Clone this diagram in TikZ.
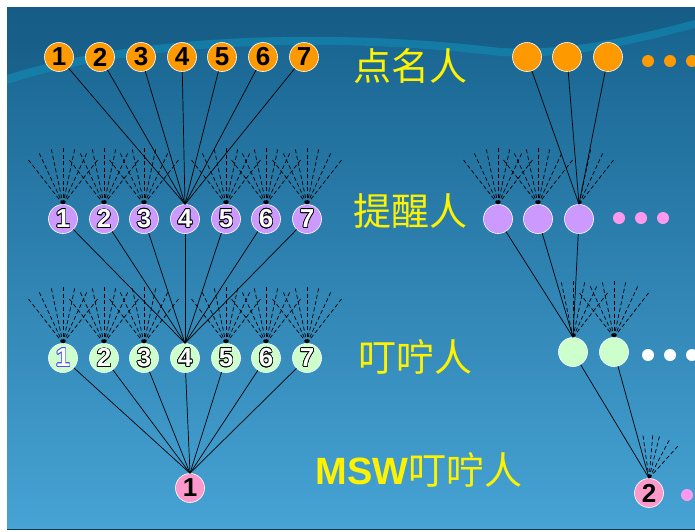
\documentclass[tikz,border=0pt]{standalone}
\usepackage{fontspec}
\setmainfont{Liberation Sans}
\newfontfamily\cjk{Noto Sans CJK SC}
\usepackage{contour}
\contourlength{0.7pt}
\usetikzlibrary{arrows.meta}

\definecolor{callorange}{HTML}{FF9900}
\definecolor{remindpurple}{HTML}{CC99FF}
\definecolor{urgegreen}{HTML}{CCFFCC}
\definecolor{mswpink}{HTML}{FF99CC}
\definecolor{dotpink}{HTML}{FF99EE}
\definecolor{skytop}{HTML}{17628E}
\definecolor{skybottom}{HTML}{46A3D4}
\definecolor{skyband}{HTML}{0A9CC0}

\tikzset{
  person/.style={circle, draw=white, line width=0.6pt, minimum size=29pt, inner sep=0pt,
    font=\fontsize{26}{26}\selectfont\bfseries},
  call/.style={person, fill=callorange},
  remind/.style={person, fill=remindpurple},
  urge/.style={person, fill=urgegreen},
  msw/.style={person, fill=mswpink},
  more/.style={circle, minimum size=12pt, inner sep=0pt},
  tie/.style={black, line width=0.7pt},
  hint/.style={black, line width=0.7pt, dash pattern=on 4pt off 2.5pt, -{Stealth[length=3pt,width=3pt]}},
  tag/.style={text=yellow, font=\cjk\fontsize{38}{38}\selectfont},
}
\newcommand{\digit}[2][black]{\contour{#1}{\textcolor{white}{#2}}}
\newcommand{\fanin}[3][56]{\foreach \a in {#3} \draw[hint] (#2.north) ++(-\a:#1) -- (#2.north);}

\begin{document}
\begin{tikzpicture}[x=1pt,y=-1pt]
  \useasboundingbox (0,0) rectangle (695,531);
  \fill[white] (0,0) rectangle (695,531);
  \shade[top color=skytop, bottom color=skybottom] (7,7) rectangle (695,529);
  \fill[skytop!80!black, opacity=0.25] (7,7) -- (695,7) -- (695,20) .. controls (600,45) and (560,50) .. (500,48)
    .. controls (350,30) and (150,30) .. (7,75) -- cycle;
  \fill[skyband, opacity=0.4] (7,75) .. controls (150,30) and (350,30) .. (500,48)
    .. controls (560,50) and (600,45) .. (695,20) -- (695,28) .. controls (600,53) and (560,58) .. (500,56)
    .. controls (350,38) and (150,38) .. (7,84) -- cycle;
  \draw[skytop!60!black, line width=1pt] (7,529.5) -- (695,529.5);

  \node[call] (o1) at (59,57) {1};
  \node[call] (o2) at (100,57) {2};
  \node[call] (o3) at (141,57) {3};
  \node[call] (o4) at (182,57) {4};
  \node[call] (o5) at (222,57) {5};
  \node[call] (o6) at (263,57) {6};
  \node[call] (o7) at (304,57) {7};
  \node[call] (oa) at (527,57) {};
  \node[call] (ob) at (567,57) {};
  \node[call] (oc) at (608,57) {};
  \node[more, fill=callorange] (od1) at (648,61) {};
  \node[more, fill=callorange] (od2) at (670,61) {};
  \node[more, fill=callorange] (od3) at (692,61) {};

  \node[remind] (p1) at (63,219) {\digit{1}};
  \node[remind] (p2) at (104,219) {\digit{2}};
  \node[remind] (p3) at (144,219) {\digit{3}};
  \node[remind] (p4) at (185,219) {\digit{4}};
  \node[remind] (p5) at (226,219) {\digit{5}};
  \node[remind] (p6) at (266,219) {\digit{6}};
  \node[remind] (p7) at (307,219) {\digit{7}};
  \node[remind] (pa) at (498,219) {};
  \node[remind] (pb) at (538,219) {};
  \node[remind] (pc) at (579,219) {};
  \node[more, fill=dotpink] (pd1) at (619,218) {};
  \node[more, fill=dotpink] (pd2) at (641,218) {};
  \node[more, fill=dotpink] (pd3) at (663,218) {};

  \node[urge] (g1) at (63,358) {\digit[blue!70!white]{1}};
  \node[urge] (g2) at (104,358) {\digit{2}};
  \node[urge] (g3) at (144,358) {\digit{3}};
  \node[urge] (g4) at (185,358) {\digit{4}};
  \node[urge] (g5) at (226,358) {\digit{5}};
  \node[urge] (g6) at (266,358) {\digit{6}};
  \node[urge] (g7) at (307,358) {\digit{7}};
  \node[urge] (ga) at (573,352) {};
  \node[urge] (gb) at (614,352) {};
  \node[more, fill=white] (gd1) at (648,355) {};
  \node[more, fill=white] (gd2) at (670,355) {};
  \node[more, fill=white] (gd3) at (692,355) {};

  \node[msw] (m1) at (190,488) {1};
  \node[msw] (m2) at (649,493) {2};
  \node[more, fill=dotpink] (md1) at (687,495) {};

  \node[tag] (callers) at (410,66) {点名人};
  \node[tag] (reminders) at (410,211) {提醒人};
  \node[tag] (urgers) at (415,357) {叮咛人};
  \node[tag] (mswurgers) at (419,470) {{\rmfamily\bfseries MSW}叮咛人};

  \foreach \i in {1,...,7} \draw[tie] (o\i) -- (p4.north);
  \draw[tie] (oa) -- (pc.north);
  \draw[tie] (ob) -- (pc.north);
  \draw[tie] (oc) -- (pc.north);

  \foreach \i in {1,...,7} \draw[tie] (p\i) -- (g4.north);
  \draw[tie] (pa) -- (ga.north);
  \draw[tie] (pb) -- (ga.north);
  \draw[tie] (pc) -- (ga.north);

  \foreach \i in {1,...,7} \draw[tie] (g\i) -- (m1.north);
  \draw[tie] (ga) -- (m2.north);
  \draw[tie] (gb) -- (m2.north);

  \foreach \n in {p1,p2,p3,p5,p6,p7,pa,pb,g1,g2,g3,g5,g6,g7,gb}
    \fanin{\n}{128,115,102,90,78,65,52};
  \fanin{pc}{78,65,52}
  \fanin{ga}{102,90,78,65,52}
  \fanin[43]{m2}{98,85,76,62,48}
\end{tikzpicture}
\end{document}
